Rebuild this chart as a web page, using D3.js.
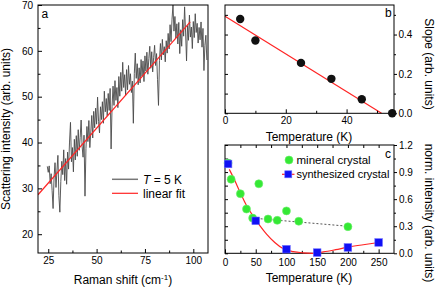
<!DOCTYPE html>
<html>
<head>
<meta charset="utf-8">
<script src="https://cdn.jsdelivr.net/npm/d3@7"></script>
<style>
  body { margin: 0; background: #fff; }
  svg { display: block; font-family: "Liberation Sans", Arial, sans-serif; }
</style>
</head>
<body>
<div id="chart"></div>
<script>
// ---- panel a: Raman spectrum at T = 5 K ----
const ramanShift = [
  24.5,25,25.5,26,26.5,27,27.5,28,28.5,29,
  29.5,30,30.5,31,31.5,32,32.5,33,33.5,34,
  34.5,35,35.5,36,36.5,37,37.5,38,38.5,39,
  39.5,40,40.5,41,41.5,42,42.5,43,43.5,44,
  44.5,45,45.5,46,46.5,47,47.5,48,48.5,49,
  49.5,50,50.5,51,51.5,52,52.5,53,53.5,54,
  54.5,55,55.5,56,56.5,57,57.5,58,58.5,59,
  59.5,60,60.5,61,61.5,62,62.5,63,63.5,64,
  64.5,65,65.5,66,66.5,67,67.5,68,68.5,69,
  69.5,70,70.5,71,71.5,72,72.5,73,73.5,74,
  74.5,75,75.5,76,76.5,77,77.5,78,78.5,79,
  79.5,80,80.5,81,81.5,82,82.5,83,83.5,84,
  84.5,85,85.5,86,86.5,87,87.5,88,88.5,89,
  89.5,90,90.5,91,91.5,92,92.5,93,93.5,94,
  94.5,95,95.5,96,96.5,97,97.5,98,98.5,99,
  99.5,100,100.5,101,101.5,102,102.5,103,103.5,104,
  104.5,105,105.5,106,106.5,107
];
const intensity = [
  34.8,33.5,34.9,31.0,33.2,29.5,25.6,32.4,35.6,30.2,
  33.8,37.2,28.4,24.8,31.5,35.9,33.0,38.4,31.7,36.5,
  30.9,37.9,34.2,40.1,44.4,35.8,38.9,33.6,40.7,36.2,
  41.5,37.0,42.8,38.3,41.1,44.9,39.2,36.8,41.6,28.3,
  38.7,43.5,40.2,44.8,38.9,42.3,45.9,41.0,46.8,43.2,
  47.5,44.0,49.9,44.6,42.1,47.8,45.0,48.9,44.2,51.2,
  46.7,49.6,45.8,50.7,47.0,51.8,38.6,47.9,52.3,48.1,
  53.5,49.2,52.0,47.6,54.4,50.1,55.3,51.2,57.5,52.0,
  54.8,50.3,55.9,51.5,56.8,52.7,55.0,50.9,53.4,44.2,
  55.1,59.5,54.0,57.2,52.6,56.3,53.0,58.1,54.5,57.8,
  53.3,58.9,55.6,59.7,54.9,58.3,61.0,56.2,59.8,55.4,
  58.6,61.2,56.8,59.4,53.7,48.1,57.9,61.6,58.0,62.5,
  59.1,60.9,57.6,62.2,59.5,63.8,60.4,65.7,62.0,66.9,
  70.0,64.3,67.5,62.8,65.9,61.5,66.2,59.4,64.6,61.0,
  66.8,63.2,69.6,64.1,57.8,65.5,62.3,67.8,63.0,65.2,
  60.5,66.4,62.9,68.1,64.0,66.0,61.7,65.1,62.4,66.3,
  60.8,64.9,55.7,61.2,63.4,58.0
];
const fitShift = [19.7, 98.4];
const fitIntensity = [28.6, 66.3];
const aXTicks = [25, 50, 75, 100];
const aXMinor = [37.5, 62.5, 87.5];
const aYTicks = [20, 30, 40, 50, 60, 70];
const aYMinor = [25, 35, 45, 55, 65];

// ---- panel b: slope vs temperature ----
const slopeTemp = [5, 10, 25, 35, 45, 55];
const slope = [0.479, 0.37, 0.256, 0.175, 0.071, 0.0];
const slopeFitTemp = [0, 51.5];
const slopeFit = [0.493, 0];
const bXTicks = [0, 20, 40];
const bXMinor = [10, 30, 50];
const bYTicks = [0.0, 0.2, 0.4];
const bYMinor = [0.1, 0.3, 0.5];

// ---- panel c: normalised intensity vs temperature ----
const mineralTemp = [5, 10, 25, 35, 45, 55, 70, 85, 100, 120, 200];
const mineralInt = [1.0, 0.82, 0.66, 0.49, 0.39, 0.77, 0.38, 0.365, 0.47, 0.355, 0.295];
const mineralGuideTemp = [45, 200];
const mineralGuideInt = [0.39, 0.30];
const synthTemp = [5, 50, 100, 150, 200, 250];
const synthInt = [0.99, 0.36, 0.045, 0.008, 0.065, 0.12];
const synthCurveTemp = [7, 15, 25, 35, 45, 50, 57, 68, 81, 95, 111, 127, 143, 160, 180, 200, 225, 250];
const synthCurveInt = [0.93, 0.82, 0.67, 0.53, 0.42, 0.37, 0.305, 0.21, 0.12, 0.05, 0.018, 0.005, 0.0, 0.015, 0.04, 0.068, 0.095, 0.12];
const cXTicks = [0, 50, 100, 150, 200, 250];
const cXMinor = [25, 75, 125, 175, 225, 275];
const cYTicks = [0.0, 0.3, 0.6, 0.9, 1.2];
const cYMinor = [0.15, 0.45, 0.75, 1.05];

const W = 436, H = 288;
const red = '#ff2424', green = '#35e835', blue = '#1010f5';

const svg = d3.select('#chart').append('svg')
  .attr('width', W)
  .attr('height', H);

// style an axis group: no domain line, black ticks and 10px labels
function tidy(g) {
  g.select('.domain').remove();
  g.selectAll('line').attr('stroke', '#000');
  g.selectAll('text').attr('fill', '#000').style('font-size', '10px');
}

function frame(box) {
  svg.append('rect')
    .attr('x', box.l).attr('y', box.t)
    .attr('width', box.r - box.l).attr('height', box.b - box.t)
    .attr('fill', 'none').attr('stroke', '#000').attr('stroke-width', 1);
}

// ================= panel a =================
const ba = {l: 38, r: 208, t: 5, b: 253};
const xA = d3.scaleLinear().domain([19.7, 107.6]).range([ba.l, ba.r]);
const yA = d3.scaleLinear().domain([15.9, 70]).range([ba.b, ba.t]);

svg.append('clipPath').attr('id', 'clipA')
  .append('rect').attr('x', ba.l).attr('y', ba.t)
  .attr('width', ba.r - ba.l).attr('height', ba.b - ba.t);

const lineA = d3.line().x((d, i) => xA(ramanShift[i])).y(d => yA(d));
svg.append('path')
  .datum(intensity)
  .attr('clip-path', 'url(#clipA)')
  .attr('d', lineA)
  .attr('fill', 'none').attr('stroke', '#4a4a4a').attr('stroke-width', 0.9);

svg.append('path')
  .datum(fitIntensity)
  .attr('clip-path', 'url(#clipA)')
  .attr('d', d3.line().x((d, i) => xA(fitShift[i])).y(d => yA(d)))
  .attr('fill', 'none').attr('stroke', red).attr('stroke-width', 1.2);

svg.append('g').attr('transform', `translate(0,${ba.b})`)
  .call(d3.axisBottom(xA).tickValues(aXTicks).tickSizeInner(-4).tickSizeOuter(0).tickPadding(4))
  .call(tidy);
svg.append('g').attr('transform', `translate(0,${ba.b})`)
  .call(d3.axisBottom(xA).tickValues(aXMinor).tickFormat('').tickSizeInner(-2.5).tickSizeOuter(0))
  .call(tidy);
svg.append('g').attr('transform', `translate(${ba.l},0)`)
  .call(d3.axisLeft(yA).tickValues(aYTicks).tickSizeInner(-4).tickSizeOuter(0).tickPadding(5))
  .call(tidy);
svg.append('g').attr('transform', `translate(${ba.l},0)`)
  .call(d3.axisLeft(yA).tickValues(aYMinor).tickFormat('').tickSizeInner(-2.5).tickSizeOuter(0))
  .call(tidy);
frame(ba);

svg.append('text').attr('x', 41.5).attr('y', 18.3)
  .style('font-size', '12px').text('a');

// legend a
svg.append('line').attr('x1', 112).attr('x2', 138).attr('y1', 179.3).attr('y2', 179.3)
  .attr('stroke', '#777').attr('stroke-width', 1.5);
const lt = svg.append('text').attr('x', 143).attr('y', 183.8).style('font-size', '12px');
lt.append('tspan').style('font-style', 'italic').text('T');
lt.append('tspan').text(' = 5 K');
svg.append('line').attr('x1', 112).attr('x2', 138).attr('y1', 193.3).attr('y2', 193.3)
  .attr('stroke', red).attr('stroke-width', 1.2);
svg.append('text').attr('x', 143).attr('y', 197.8).style('font-size', '12px').text('linear fit');

// titles a
const xt = svg.append('text').attr('x', 123).attr('y', 284)
  .attr('text-anchor', 'middle').style('font-size', '12px');
xt.append('tspan').text('Raman shift (cm');
xt.append('tspan').attr('dy', -4.5).style('font-size', '8px').text('-1');
xt.append('tspan').attr('dy', 4.5).text(')');
svg.append('text')
  .attr('transform', 'translate(10,129) rotate(-90)')
  .attr('text-anchor', 'middle').style('font-size', '12px')
  .text('Scattering intensity (arb. units)');

// ================= panel b =================
const bb = {l: 225, r: 394, t: 5, b: 113.3};
const xB = d3.scaleLinear().domain([0, 55.6]).range([bb.l, bb.r]);
const yB = d3.scaleLinear().domain([0, 0.55]).range([bb.b, bb.t]);

svg.append('path')
  .datum(slopeFit)
  .attr('d', d3.line().x((d, i) => xB(slopeFitTemp[i])).y(d => yB(d)))
  .attr('fill', 'none').attr('stroke', red).attr('stroke-width', 1.2);

svg.append('g').attr('transform', `translate(0,${bb.b})`)
  .call(d3.axisBottom(xB).tickValues(bXTicks).tickSizeInner(-4).tickSizeOuter(0).tickPadding(4))
  .call(tidy);
svg.append('g').attr('transform', `translate(0,${bb.b})`)
  .call(d3.axisBottom(xB).tickValues(bXMinor).tickFormat('').tickSizeInner(-2.5).tickSizeOuter(0))
  .call(tidy);
svg.append('g').attr('transform', `translate(${bb.l},0)`)
  .call(d3.axisLeft(yB).tickValues(bYTicks.concat(bYMinor)).tickFormat('').tickSizeInner(-3).tickSizeOuter(0))
  .call(tidy);
svg.append('g').attr('transform', `translate(${bb.r},0)`)
  .call(d3.axisRight(yB).tickValues(bYTicks).tickFormat(d3.format('.1f')).tickSizeInner(3).tickSizeOuter(0).tickPadding(1.5))
  .call(tidy);
svg.append('g').attr('transform', `translate(${bb.r},0)`)
  .call(d3.axisRight(yB).tickValues(bYMinor).tickFormat('').tickSizeInner(2).tickSizeOuter(0))
  .call(tidy);
frame(bb);

svg.append('g').selectAll('circle')
  .data(slope)
  .join('circle')
  .attr('cx', (d, i) => xB(slopeTemp[i]))
  .attr('cy', d => yB(d))
  .attr('r', 4.2)
  .attr('fill', '#111');

svg.append('text').attr('x', 385).attr('y', 17.3).style('font-size', '12px').text('b');

svg.append('text').attr('x', 309).attr('y', 141)
  .attr('text-anchor', 'middle').style('font-size', '12px').text('Temperature (K)');
svg.append('text')
  .attr('transform', 'translate(424.5,64) rotate(90)')
  .attr('text-anchor', 'middle').style('font-size', '12px')
  .text('Slope (arb. units)');

// ================= panel c =================
const bc = {l: 225, r: 394, t: 145, b: 253.3};
const xC = d3.scaleLinear().domain([0, 275]).range([bc.l, bc.r]);
const yC = d3.scaleLinear().domain([0, 1.2]).range([bc.b, bc.t]);

svg.append('g').attr('transform', `translate(0,${bc.b})`)
  .call(d3.axisBottom(xC).tickValues(cXTicks).tickSizeInner(-4).tickSizeOuter(0).tickPadding(5.5))
  .call(tidy);
svg.append('g').attr('transform', `translate(0,${bc.b})`)
  .call(d3.axisBottom(xC).tickValues(cXMinor.filter(v => v < 275)).tickFormat('').tickSizeInner(-2.5).tickSizeOuter(0))
  .call(tidy);
svg.append('g').attr('transform', `translate(0,${bc.t})`)
  .call(d3.axisTop(xC).tickValues(cXTicks.concat(cXMinor).filter(v => v > 0 && v < 275)).tickFormat('').tickSizeInner(-3).tickSizeOuter(0))
  .call(tidy);
svg.append('g').attr('transform', `translate(${bc.l},0)`)
  .call(d3.axisLeft(yC).tickValues(cYTicks.concat(cYMinor)).tickFormat('').tickSizeInner(-3).tickSizeOuter(0))
  .call(tidy);
svg.append('g').attr('transform', `translate(${bc.r},0)`)
  .call(d3.axisRight(yC).tickValues(cYTicks).tickFormat(d3.format('.1f')).tickSizeInner(3).tickSizeOuter(0).tickPadding(2))
  .call(tidy);
svg.append('g').attr('transform', `translate(${bc.r},0)`)
  .call(d3.axisRight(yC).tickValues(cYMinor).tickFormat('').tickSizeInner(2).tickSizeOuter(0))
  .call(tidy);
frame(bc);

svg.append('path')
  .datum(mineralGuideInt)
  .attr('d', d3.line().x((d, i) => xC(mineralGuideTemp[i])).y(d => yC(d)))
  .attr('fill', 'none').attr('stroke', '#555').attr('stroke-width', 1)
  .attr('stroke-dasharray', '2,2');

svg.append('path')
  .datum(synthCurveInt)
  .attr('d', d3.line().curve(d3.curveMonotoneX).x((d, i) => xC(synthCurveTemp[i])).y(d => yC(d)))
  .attr('fill', 'none').attr('stroke', red).attr('stroke-width', 1.2);

svg.append('g').selectAll('circle')
  .data(mineralInt)
  .join('circle')
  .attr('cx', (d, i) => xC(mineralTemp[i]))
  .attr('cy', d => yC(d))
  .attr('r', 4)
  .attr('fill', green).attr('stroke', '#6bf06b').attr('stroke-width', 0.6);

svg.append('g').selectAll('rect')
  .data(synthInt)
  .join('rect')
  .attr('x', (d, i) => xC(synthTemp[i]) - 3.8)
  .attr('y', d => yC(d) - 3.8)
  .attr('width', 7.6).attr('height', 7.6)
  .attr('fill', blue).attr('stroke', '#6a6aff').attr('stroke-width', 0.6);

svg.append('text').attr('x', 385).attr('y', 157.7).style('font-size', '12px').text('c');

// legend c
svg.append('circle').attr('cx', 289).attr('cy', 160).attr('r', 4)
  .attr('fill', green).attr('stroke', '#6bf06b').attr('stroke-width', 0.6);
svg.append('text').attr('x', 296.5).attr('y', 164).style('font-size', '11.5px').text('mineral crystal');
svg.append('line').attr('x1', 282).attr('x2', 294.5).attr('y1', 174.3).attr('y2', 174.3)
  .attr('stroke', red).attr('stroke-width', 1.2);
svg.append('rect').attr('x', 284.8).attr('y', 170.8).attr('width', 7).attr('height', 7)
  .attr('fill', blue).attr('stroke', '#6a6aff').attr('stroke-width', 0.6);
svg.append('text').attr('x', 296.5).attr('y', 178.3).style('font-size', '11px').text('synthesized crystal');

svg.append('text').attr('x', 309).attr('y', 282)
  .attr('text-anchor', 'middle').style('font-size', '12px').text('Temperature (K)');
svg.append('text')
  .attr('transform', 'translate(424.5,213) rotate(90)')
  .attr('text-anchor', 'middle').style('font-size', '12px')
  .text('norm. intensity (arb. units)');
</script>
</body>
</html>
